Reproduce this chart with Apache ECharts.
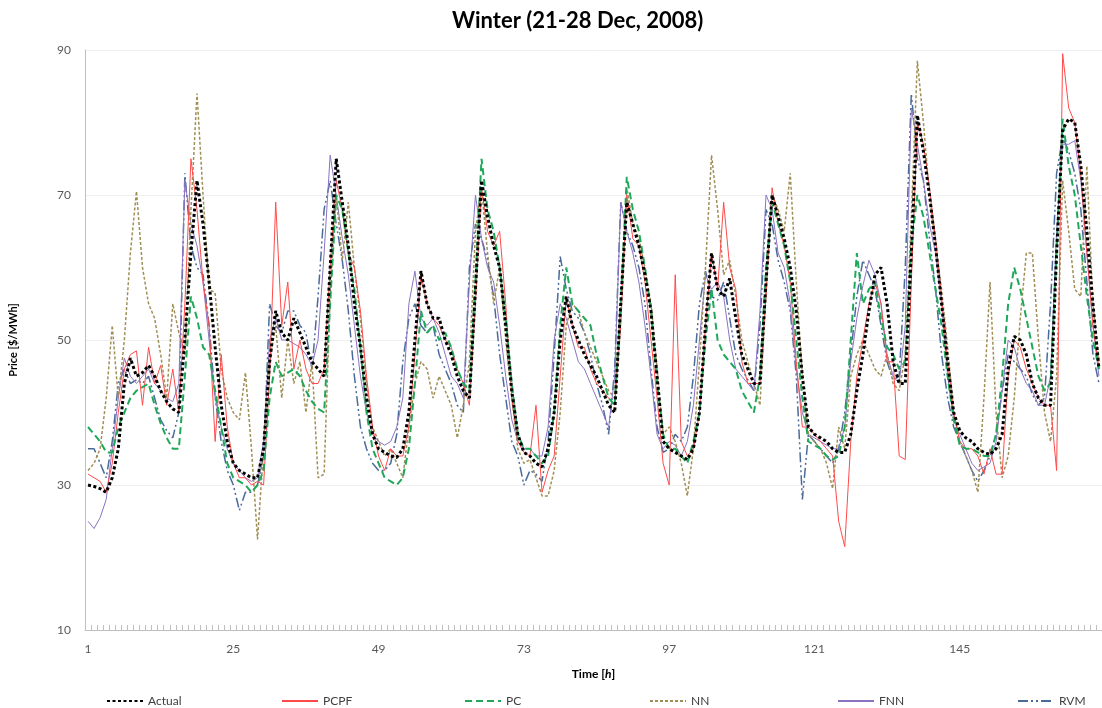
<!DOCTYPE html>
<html>
<head>
<meta charset="utf-8">
<script src="https://cdn.jsdelivr.net/npm/echarts@6/dist/echarts.min.js"></script>
<style>
html,body{margin:0;padding:0;background:#fff;}
#chart{width:1102px;height:708px;}
</style>
</head>
<body>
<div id="chart"></div>
<script>
var titleText = 'Winter (21-28 Dec, 2008)';
var xTickLabels = ['1','25','49','73','97','121','145'];
var hours = [];
for (var i = 1; i <= 168; i++) hours.push(String(i));

var actual = [
30,29.8,29.5,29,31,35,44,47.5,45,45.5,
46.5,45,43,41.5,40.5,40,50,62,72,66,
58,49,41,36,33,32,31.5,31,31,35,
47,54,51,50,53,51,49,47,46,45,
60,75,69,63,55,49,42,37,35,34.5,
34,33.8,35,40,50,59.5,55,53,53,50,
48,45,43,42,57,72,67,63,60,52,
43,37,34.5,34,33,32.5,35,40,50,56,
52,50,48,46.5,45,43,41,40,55,69,
66,63,59,54,45,36,35,34.5,34,33.5,
35,40,52,62,57,56,58.5,53,48,46,
44,44,58,70,67,64,60,54,45,38,
37,36.5,36,35,34.5,34.5,37,43,48,54,
59,60,55,47,44,44,62,81,76,70,
63,55,47,40,37.5,36.5,36,35,34.5,34.2,
35,37,46,50.5,50,48,44,42,41,41,
62,79,80.5,80,74,65,55,46];

var pcpf = [
31.5,31,30.5,29,33,40,46,48,48.5,41,
49,44,46.5,41,46,40,55,75,68,58,
52,36,48,38,33,31,31,30,30.5,30,
45,69,52,58,46,50,46,44,44,46,
60,72,68,62,60,54,45,38,34,32,
35,34,34,38,48,59,55,53,52,50,
49,46,44,41,55,71,65,63,65,55,
42,36,34.5,34,41,29,32,34,45,56,
52,49,49,46,44,43,42,41,52,70,
64,63,58,50,42,33,30,59,36,34,
35,40,52,62,57,69,60,57,47,44,
44,44,56,71,66,63,58,47,38,38,
37,36,35,34,25,21.5,36,45,50,55,
58,55,47,47,34,33.5,58,80,77,71,
64,56,47,40,36,35,35,34,31.5,35,
31.5,31.5,45,50,49,46,44,42,41,41,
32,89.5,82,80,73,62,52,46];

var pc = [
38,37,36,34.5,34.5,38,40,42,43,43.5,
44,41,38.5,36.5,35,35,45,56,53,49,
48,43,38,33,31,30.5,30,29,30,32,
42,47,45,45.5,46,45,43,41.5,40.5,40,
55,70,68,62,57,49,40,35,33,31,
30.5,30,31,35,44,54,51,52,50,51,
49,46,44,43,58,75,68,65,60,53,
44,37,35,35,34,33,34,40,52,60,
55,54,53,52,48,45,42,41,55,72.5,
68,65,60,54,44,37,35,35,34,33,
36,40,50,57,50,48,47,46,43,41.5,
40,45,60,69,66,63,58,50,42,36,
35.5,35,34,33.5,34,38,50,62,55,57,
58,53,49,48,46,47,63,70,67,62,
57,52,45,39,35.5,35,35,34.5,34,34,
37,45,55,60,57,53,49,45,43,44,
62,80.5,74,70,63,56,50,46];

var nn = [
32,33,35,42,52,42,50,62,70.5,60,
55,53,48,42,55,51,48,68,84,70,
57,56.5,46,42,40,39,45.5,35,22.5,35,
47,52,42,50,44,47,40,47,31,31.5,
56,70,61,69,60,53,44,38,36,34,
35,33,31,38,44,47,46,42,45,43,
41,36.5,41,47,65,71,62,55,60,50,
42,35,33,33.5,31,28.5,28.5,32,40,52,
55,54,51,49,47,45,43,42,55,71,
66,64,60,55,46,37,38,36,33,28.5,
35,47,60,75.5,68,59,61,56,50,47,
44,41,57,70,68,65,73,58,45,37,
36,35,33,29.5,38,35,45,48,50,48,
46,45,48,44,43,48,67,88.5,80,70,
63,57,49,40,36,34,32,29,42,58,
40,31,34,42,53,62,62,50,40,36,
45,72,65,57,56,74,55,47];

var fnn = [
25,24,25.5,28,35,42,47.5,45,44,45,
46,44,43,42,41.5,44,72,66,63,58,
50,42,38,35,33,32,31,30.5,31,36,
50,53,50,50,49.5,49,48,46.5,50,62,
75.5,70,64,59,52,45,40,37,36,35.5,
36,38,42,55,59.5,53,52,53,51,48,
45,44,42,58,70,64,60,58,52,45,
39,36,35,35,34,34,38,50,55,53,
50,47,46,44,42,40,38,45,69,65,
62,58,52,45,37,35,36,35.5,34,36,
41,50,59,57,58,56,50,46,45,44,
43,54,70,68,62,60,55,46,40,37,
36.5,36,35.5,35,35,38,47,53,57.5,61,
59,55,48,45,44,52,82,77,72,66,
62,55,45,39,37,35,33,32,32.5,33,
36,43,50,49,46,44,43,41,41,45,
65,77,77,77.5,72,62,52,45];

var rvm = [
35,35,33,31,36,44,46,44,44.5,44,
45,42,39,37.5,36.5,40,73,63,60,59,
52,42,36,32,30,26.5,29,29,30,34,
55,52,51,54,54,52,51,46,56,68,
72,66,61,54,45,38,35,33,32,32,
33,37,47,53,55,52,51,52,48,46,
44,41,40,60,66,64,61,56,48,42,
36,34,30,32,31.5,30.5,36,48,61.5,57,
54,53,51,48,44,41,37,46,69,65,
63,60,55,46,38,34.5,35,37,36,38,
45,55,59.5,56,55.5,58,53,48,46,44.5,
43,52,68,66,61,58,54,45,28,37,
36,35,34,33,35,40,48,56,61,59,
57,52,47,44.5,45,60,84,75,72,64,
57,48,42,38,36,34,32,30.5,32,34,
37,43,48,47,46,45,42.5,41,42,55,
73,78,76,73,68,58,48,44];

var seriesNames = ['Actual','PCPF','PC','NN','FNN','RVM'];
var legendLefts = [101, 276, 459, 644, 832, 1012];

var styles = {
  'Actual': {color:'#000000', width:3, type:[3,2.5], z:10},
  'PCPF':   {color:'#ff4a4a', width:1, type:'solid', z:5},
  'PC':     {color:'#1fa85a', width:2, type:[7,4], z:6},
  'NN':     {color:'#a08f55', width:1.5, type:[3,2], z:4},
  'FNN':    {color:'#8c73c2', width:1, type:'solid', z:3},
  'RVM':    {color:'#4a6b9a', width:1.5, type:[10,3,2,3,2,3], z:2}
};
var dataMap = {Actual:actual, PCPF:pcpf, PC:pc, NN:nn, FNN:fnn, RVM:rvm};

var font = 'Lato, "Liberation Sans", sans-serif';

var series = seriesNames.map(function(n){
  var s = styles[n];
  return {
    name: n, type: 'line', data: dataMap[n], symbol: 'none', z: s.z,
    lineStyle: {color: s.color, width: s.width, type: s.type},
    itemStyle: {color: s.color},
    animation: false
  };
});

var legends = seriesNames.map(function(n, i){
  return {
    data: [n], left: legendLefts[i], top: 690,
    itemWidth: 36, itemHeight: 10, itemGap: 4,
    itemStyle: {opacity: 0},
    textStyle: {fontFamily: font, fontSize: 12, color: '#404040'},
    selectedMode: false
  };
});

var chart = echarts.init(document.getElementById('chart'));
chart.setOption({
  backgroundColor: '#ffffff',
  animation: false,
  title: {
    text: titleText, left: 447, top: 5,
    textStyle: {fontFamily: font, fontSize: 22, fontWeight: 'bold', color: '#000'}
  },
  legend: legends,
  grid: {left: 84, right: -4, top: 50, bottom: 78, containLabel: false},
  xAxis: {
    type: 'category', data: hours, boundaryGap: true,
    name: '{b|Time [}{i|h}{b|]}',
    nameLocation: 'middle', nameGap: 38,
    nameTextStyle: {
      rich: {
        b: {fontFamily: font, fontSize: 12, fontWeight: 'bold', color: '#000'},
        i: {fontFamily: font, fontSize: 12, fontWeight: 'bold', fontStyle: 'italic', color: '#000'}
      }
    },
    axisLine: {lineStyle: {color: '#bfbfbf', width: 1}},
    axisTick: {show: true, inside: true, length: 5, interval: 0, lineStyle: {color: '#bfbfbf'}},
    axisLabel: {
      interval: function(idx, val){ return xTickLabels.indexOf(val) >= 0; },
      fontFamily: font, fontSize: 12, color: '#595959', margin: 13
    },
    splitLine: {show: false}
  },
  yAxis: {
    type: 'value', min: 10, max: 90, interval: 20,
    name: 'Price [$/MWh]', nameLocation: 'middle', nameGap: 66,
    nameTextStyle: {fontFamily: font, fontSize: 11, fontWeight: 'bold', color: '#000'},
    axisLine: {show: true, lineStyle: {color: '#bfbfbf'}},
    axisTick: {show: false},
    axisLabel: {fontFamily: font, fontSize: 12, color: '#595959', margin: 14},
    splitLine: {lineStyle: {color: '#efefef'}}
  },
  series: series
});
</script>
</body>
</html>
